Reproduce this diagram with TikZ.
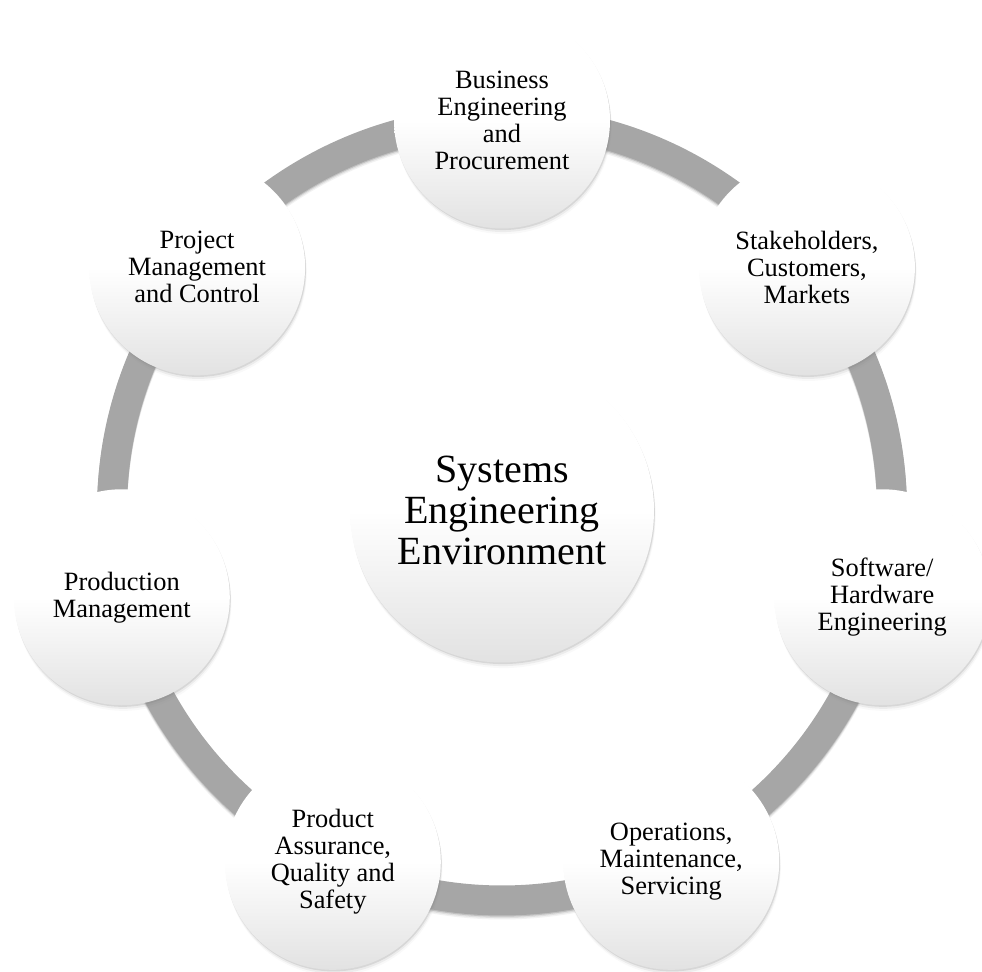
\documentclass[tikz,border=0pt]{standalone}
\usepackage{fontspec}
\setmainfont{Liberation Serif}
\usetikzlibrary{positioning, shadows}
\definecolor{RingColor}{RGB}{166,166,166}
\definecolor{BallShade}{RGB}{226,226,226}
\tikzstyle{ring} = [line width=15pt, RingColor]
\tikzstyle{ball} = [circle, minimum size=108pt, inner sep=0pt, align=center, top color=white, bottom color=BallShade, middle color=white,
    drop shadow={shadow xshift=0.4pt, shadow yshift=-0.8pt, opacity=0.2},
    drop shadow={shadow xshift=0.6pt, shadow yshift=-1.8pt, opacity=0.1},
    drop shadow={shadow xshift=0.8pt, shadow yshift=-2.8pt, opacity=0.05},
    font=\fontsize{13.2}{13.5}\selectfont]
\tikzstyle{hubball} = [ball, minimum size=152pt, font=\fontsize{20}{20.5}\selectfont]
\begin{document}
\begin{tikzpicture}[x=0.5pt, y=0.5pt]
    \useasboundingbox (0,0) rectangle (982,972);
    % Ring with its soft shadow
    \coordinate (hub) at (502,461.5);
    \foreach \s/\o in {0.6/0.14, 1.3/0.08, 2/0.05} {
            \draw[line width=15pt, black, opacity=\o] ([yshift=-\s pt]hub) circle[radius=390];
        }
    \draw[ring] (hub) circle[radius=390];

    % Centre
    \node[hubball] (sys) at (hub) {Systems\\Engineering\\Environment};

    % Topics round the ring
    \foreach \k/\name/\txt in {0/bep/{Business\\Engineering\\and\\Procurement},
            1/scm/{Stakeholders,\\Customers,\\Markets},
            2/swhw/{Software/\\Hardware\\Engineering},
            3/oms/{Operations,\\Maintenance,\\Servicing},
            4/paqs/{Product\\Assurance,\\Quality and\\Safety},
            5/prod/{Production\\Management},
            6/pmc/{Project\\Management\\and Control}} {
            \node[ball] (\name) at ([shift={(90-\k*360/7:390)}]hub) {\txt};
        }
\end{tikzpicture}
\end{document}
